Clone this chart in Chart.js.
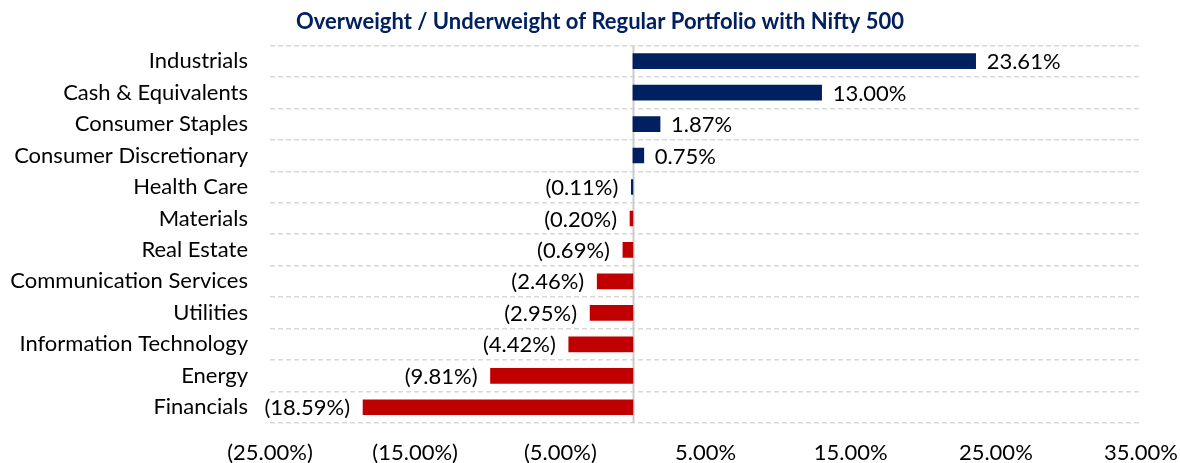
<!DOCTYPE html>
<html>
<head>
<meta charset="utf-8">
<script src="https://cdn.jsdelivr.net/npm/chart.js@4/dist/chart.umd.min.js"></script>
<style>
  html, body { margin: 0; padding: 0; background: #ffffff; }
  #wrap { width: 1180px; height: 463px; position: relative; }
</style>
</head>
<body>
<div id="wrap"><canvas id="c"></canvas></div>
<script>
const categories = [
  "Industrials", "Cash & Equivalents", "Consumer Staples", "Consumer Discretionary",
  "Health Care", "Materials", "Real Estate", "Communication Services",
  "Utilities", "Information Technology", "Energy", "Financials"
];
const values = [23.61, 13.00, 1.87, 0.75, -0.11, -0.20, -0.69, -2.46, -2.95, -4.42, -9.81, -18.59];
const barColors = ["#002060", "#002060", "#002060", "#002060", "#002060", "#C00000", "#C00000", "#C00000", "#C00000", "#C00000", "#C00000", "#C00000"];
const xMin = -25, xMax = 35, xStep = 10;
const titleText = "Overweight / Underweight of Regular Portfolio with Nifty 500";

const FONT = "Lato";

function fmtPct(v) {
  const s = Math.abs(v).toFixed(2) + "%";
  return v < 0 ? "(" + s + ")" : s;
}

const zeroLinePlugin = {
  id: "zeroLine",
  beforeDatasetsDraw(chart) {
    const { ctx, chartArea, scales } = chart;
    const x = Math.round(scales.x.getPixelForValue(0)) + 0.5;
    ctx.save();
    ctx.strokeStyle = "#cccccc";
    ctx.lineWidth = 2;
    ctx.beginPath();
    ctx.moveTo(x, chartArea.top);
    ctx.lineTo(x, chartArea.bottom);
    ctx.stroke();
    ctx.restore();
  }
};

const valueLabelPlugin = {
  id: "valueLabels",
  afterDatasetsDraw(chart) {
    const { ctx } = chart;
    const meta = chart.getDatasetMeta(0);
    ctx.save();
    ctx.font = "22px " + FONT;
    ctx.fillStyle = "#000000";
    ctx.textBaseline = "middle";
    meta.data.forEach((bar, i) => {
      const v = chart.data.datasets[0].data[i];
      if (v >= 0) {
        ctx.textAlign = "left";
        ctx.fillText(fmtPct(v), bar.x + 11, bar.y + 1);
      } else {
        ctx.textAlign = "right";
        ctx.fillText(fmtPct(v), bar.x - 13, bar.y + 1);
      }
    });
    ctx.restore();
  }
};

new Chart(document.getElementById("c"), {
  type: "bar",
  data: {
    labels: categories,
    datasets: [{
      data: values,
      backgroundColor: barColors,
      borderWidth: 0,
      barThickness: 15
    }]
  },
  options: {
    indexAxis: "y",
    responsive: true,
    maintainAspectRatio: false,
    animation: false,
    layout: { padding: { left: 6, right: -14, top: 0, bottom: 0 } },
    plugins: {
      legend: { display: false },
      tooltip: { enabled: false },
      title: {
        display: true,
        text: titleText,
        color: "#002060",
        font: { family: FONT, size: 22, weight: "bold" },
        padding: { top: 9, bottom: 10 }
      }
    },
    scales: {
      x: {
        type: "linear",
        min: xMin,
        max: xMax,
        grid: { display: false, drawTicks: false },
        border: { display: false },
        ticks: {
          stepSize: xStep,
          padding: 17,
          color: "#000000",
          font: { family: FONT, size: 22 },
          maxRotation: 0,
          callback: (v) => fmtPct(v)
        },
        afterFit(scale) { scale.height = 40; scale.paddingRight = 39; }
      },
      y: {
        type: "category",
        offset: true,
        grid: {
          display: true,
          offset: true,
          drawTicks: false,
          color: "#d9d9d9",
          lineWidth: 1.5
        },
        border: { display: false, dash: [5, 3] },
        ticks: {
          padding: 22,
          color: "#000000",
          font: { family: FONT, size: 22 },
          autoSkip: false
        },
        afterFit(scale) { scale.width = 264; }
      }
    }
  },
  plugins: [zeroLinePlugin, valueLabelPlugin]
});
</script>
</body>
</html>
